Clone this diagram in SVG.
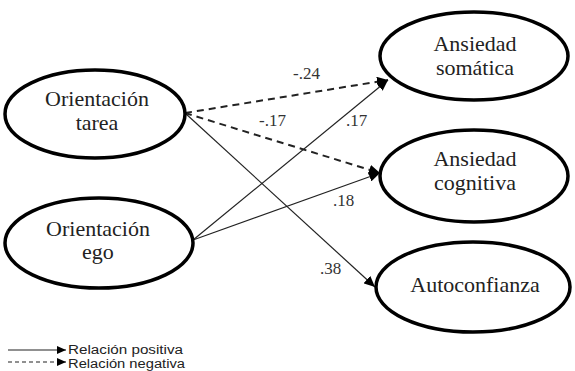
<svg xmlns="http://www.w3.org/2000/svg" width="575" height="371" viewBox="0 0 575 371">
<style>
.node ellipse{fill:#fff;stroke:#000;stroke-width:3.5}
.node text{font-size:22px;fill:#222;text-anchor:middle}
.edge{fill:none;stroke:#222;stroke-width:1.2}
.dash{stroke-width:2;stroke-dasharray:7 5}
.lbl{font-size:17px;fill:#333}
.leg{font-family:'Liberation Sans',Arial,sans-serif;font-size:12.5px;fill:#222}
</style>
<defs>
<marker id="ah" markerUnits="userSpaceOnUse" markerWidth="12" markerHeight="10" refX="11" refY="5" orient="auto">
<path d="M0,0 L11,5 L0,10 Z" fill="#000"/>
</marker>
<marker id="ahs" markerUnits="userSpaceOnUse" markerWidth="10" markerHeight="8" refX="9" refY="4" orient="auto">
<path d="M0,0 L9,4 L0,8 Z" fill="#000"/>
</marker>
</defs>
<rect width="575" height="371" fill="#fff"/>
<g id="connectors">
<line class="edge dash" x1="185" y1="113" x2="388" y2="80" marker-end="url(#ah)"/>
<line class="edge dash" x1="185" y1="113" x2="380" y2="173" marker-end="url(#ah)"/>
<line class="edge" x1="185" y1="113" x2="375" y2="287" marker-end="url(#ah)"/>
<line class="edge" x1="193" y1="240" x2="388" y2="80" marker-end="url(#ah)"/>
<line class="edge" x1="193" y1="240" x2="380" y2="173" marker-end="url(#ah)"/>
<g font-family="Liberation Serif, DejaVu Serif, serif">
<text class="lbl" x="293" y="79">-.24</text>
<text class="lbl" x="259" y="126">-.17</text>
<text class="lbl" x="346" y="126">.17</text>
<text class="lbl" x="333" y="206">.18</text>
<text class="lbl" x="320" y="274">.38</text>
</g>
</g>
<g id="orientacion-tarea" class="node" font-family="Liberation Serif, DejaVu Serif, serif">
<ellipse cx="95" cy="114" rx="90" ry="44"/>
<text x="97" y="106">Orientación</text>
<text x="97" y="130">tarea</text>
</g>
<g id="orientacion-ego" class="node" font-family="Liberation Serif, DejaVu Serif, serif">
<ellipse cx="99" cy="243" rx="94" ry="45"/>
<text x="98" y="236">Orientación</text>
<text x="98" y="259">ego</text>
</g>
<g id="ansiedad-somatica" class="node" font-family="Liberation Serif, DejaVu Serif, serif">
<ellipse cx="474" cy="56" rx="94" ry="44"/>
<text x="475" y="51">Ansiedad</text>
<text x="475" y="75">somática</text>
</g>
<g id="ansiedad-cognitiva" class="node" font-family="Liberation Serif, DejaVu Serif, serif">
<ellipse cx="474" cy="176" rx="94" ry="46"/>
<text x="475" y="166">Ansiedad</text>
<text x="475" y="190">cognitiva</text>
</g>
<g id="autoconfianza" class="node" font-family="Liberation Serif, DejaVu Serif, serif">
<ellipse cx="473" cy="287" rx="97" ry="45"/>
<text x="475" y="292">Autoconfianza</text>
</g>
<g id="legend">
<line class="edge" x1="8" y1="350" x2="66" y2="350" marker-end="url(#ahs)"/>
<line class="edge" x1="8" y1="362" x2="66" y2="362" stroke-dasharray="4 3" marker-end="url(#ahs)"/>
<text class="leg" x="68" y="353.5" textLength="115" lengthAdjust="spacingAndGlyphs">Relación positiva</text>
<text class="leg" x="68" y="367.5" textLength="117" lengthAdjust="spacingAndGlyphs">Relación negativa</text>
</g>
</svg>
